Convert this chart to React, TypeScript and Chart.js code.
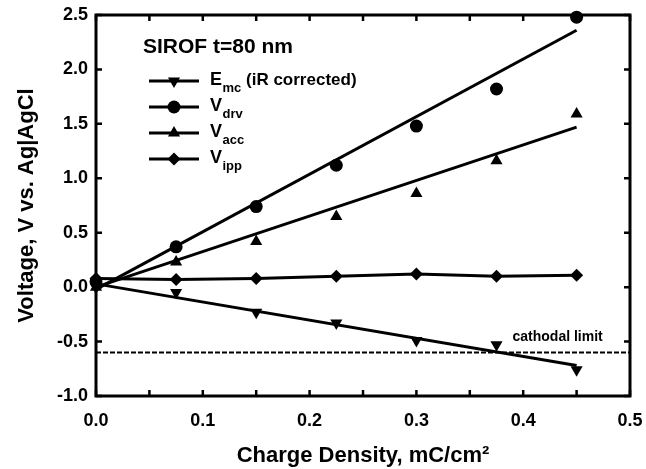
import React, { useEffect, useRef } from 'react';
import { Chart, registerables } from 'chart.js';

Chart.register(...registerables);

// ---- data ----
const chargeDensity = [0, 0.075, 0.15, 0.225, 0.3, 0.375, 0.45];
const emc = [0.0, -0.05, -0.23, -0.33, -0.49, -0.53, -0.76];
const vdrv = [0.05, 0.37, 0.74, 1.12, 1.48, 1.82, 2.48];
const vacc = [0.0, 0.23, 0.42, 0.65, 0.86, 1.16, 1.59];
const vipp = [0.08, 0.07, 0.08, 0.10, 0.12, 0.10, 0.11];

const fitX = [0, 0.45];
const emcFit = [0.03, -0.72];
const vdrvFit = [-0.02, 2.36];
const vaccFit = [0.0, 1.47];

const limitX = [0, 0.5];
const cathodalLimit = -0.6;
const cathodalLabel = 'cathodal limit';
const cathodalLabelX = 0.39;

const xMin = 0, xMax = 0.5, xStep = 0.05;
const yMin = -1.0, yMax = 2.5, yStep = 0.5;

const xTitle = 'Charge Density, mC/cm²';
const yTitle = 'Voltage, V vs. Ag|AgCl';
const panelTitle = 'SIROF t=80 nm';
const legendItems = [
  { main: 'E', sub: 'mc', rest: ' (iR corrected)', marker: 'down' },
  { main: 'V', sub: 'drv', rest: '', marker: 'circle' },
  { main: 'V', sub: 'acc', rest: '', marker: 'up' },
  { main: 'V', sub: 'ipp', rest: '', marker: 'diamond' },
];

const FONT = '"Liberation Sans", Arial, Helvetica, sans-serif';
const BLACK = '#000';

const pts = (xs: number[], ys: number[]) => xs.map((x, i) => ({ x, y: ys[i] }));

function drawMarker(ctx: CanvasRenderingContext2D, kind: string, x: number, y: number) {
  ctx.beginPath();
  if (kind === 'circle') {
    ctx.arc(x, y, 6.5, 0, Math.PI * 2);
  } else if (kind === 'up' || kind === 'down') {
    const r = 7;
    const s = kind === 'up' ? 1 : -1;
    for (let k = 0; k < 3; k++) {
      const a = (k * 2 * Math.PI) / 3;
      const px = x + Math.sin(a) * r;
      const py = y - s * Math.cos(a) * r;
      if (k === 0) ctx.moveTo(px, py); else ctx.lineTo(px, py);
    }
    ctx.closePath();
  } else {
    const r = 6.5;
    ctx.moveTo(x, y - r); ctx.lineTo(x + r, y); ctx.lineTo(x, y + r); ctx.lineTo(x - r, y); ctx.closePath();
  }
  ctx.fill();
}

const framePlugin = {
  id: 'frame',
  beforeDatasetsDraw(chart: any) {
    const { ctx, chartArea, scales } = chart;
    const { left, right, top, bottom } = chartArea;
    const xs = scales.x, ys = scales.y;
    ctx.save();
    ctx.strokeStyle = BLACK;
    ctx.lineWidth = 3;
    ctx.strokeRect(left, top, right - left, bottom - top);
    ctx.lineWidth = 2.5;
    const tl = 6;
    ctx.beginPath();
    xs.ticks.forEach((t: any) => {
      const px = xs.getPixelForValue(t.value);
      ctx.moveTo(px, bottom); ctx.lineTo(px, bottom - tl);
      ctx.moveTo(px, top); ctx.lineTo(px, top + tl);
    });
    ys.ticks.forEach((t: any) => {
      const py = ys.getPixelForValue(t.value);
      ctx.moveTo(left, py); ctx.lineTo(left + tl, py);
      ctx.moveTo(right, py); ctx.lineTo(right - tl, py);
    });
    ctx.stroke();
    ctx.restore();
  },
  afterDatasetsDraw(chart: any) {
    const { ctx, chartArea, scales } = chart;
    const { left, top } = chartArea;
    ctx.save();
    ctx.fillStyle = BLACK;
    ctx.strokeStyle = BLACK;
    // cathodal label
    ctx.font = `bold 14px ${FONT}`;
    ctx.textAlign = 'left';
    ctx.textBaseline = 'middle';
    ctx.fillText(cathodalLabel, scales.x.getPixelForValue(cathodalLabelX), scales.y.getPixelForValue(cathodalLimit) - 15);
    // panel title
    ctx.font = `bold 21px ${FONT}`;
    ctx.textBaseline = 'alphabetic';
    ctx.fillText(panelTitle, left + 47, top + 38);
    // legend
    const x0 = left + 53, x1 = left + 103, xm = (x0 + x1) / 2, xt = left + 114;
    legendItems.forEach((it, i) => {
      const ry = top + 66 + i * 26;
      ctx.lineWidth = 3;
      ctx.beginPath();
      ctx.moveTo(x0, ry); ctx.lineTo(x1, ry);
      ctx.stroke();
      drawMarker(ctx, it.marker, xm, ry);
      const base = ry + 4;
      ctx.font = `bold 18px ${FONT}`;
      ctx.fillText(it.main, xt, base);
      let cx = xt + ctx.measureText(it.main).width + 0.5;
      ctx.font = `bold 13px ${FONT}`;
      ctx.fillText(it.sub, cx, base + 7);
      cx += ctx.measureText(it.sub).width;
      if (it.rest) {
        ctx.font = `bold 17px ${FONT}`;
        ctx.fillText(it.rest, cx, base);
      }
    });
    ctx.restore();
  },
};

export default function App() {
  const ref = useRef<HTMLCanvasElement | null>(null);
  useEffect(() => {
    if (!ref.current) return;
    Chart.defaults.font.family = FONT;
    Chart.defaults.color = BLACK;
    const common = { borderColor: BLACK, backgroundColor: BLACK, clip: false as any };
    const chart = new Chart(ref.current, {
      type: 'scatter',
      data: {
        datasets: [
          { ...common, label: 'cathodal', data: pts(limitX, [cathodalLimit, cathodalLimit]), showLine: true, borderWidth: 2, borderDash: [5, 2], pointRadius: 0 },
          { ...common, label: 'Emc fit', data: pts(fitX, emcFit), showLine: true, borderWidth: 3, pointRadius: 0 },
          { ...common, label: 'Vdrv fit', data: pts(fitX, vdrvFit), showLine: true, borderWidth: 3, pointRadius: 0 },
          { ...common, label: 'Vacc fit', data: pts(fitX, vaccFit), showLine: true, borderWidth: 3, pointRadius: 0 },
          { ...common, label: 'Vipp', data: pts(chargeDensity, vipp), showLine: true, borderWidth: 3, pointStyle: 'rectRot', pointRadius: 6.5, pointBorderWidth: 0 },
          { ...common, label: 'Emc', data: pts(chargeDensity, emc), showLine: false, pointStyle: 'triangle', rotation: 180, pointRadius: 7, pointBorderWidth: 0 },
          { ...common, label: 'Vdrv', data: pts(chargeDensity, vdrv), showLine: false, pointStyle: 'circle', pointRadius: 6.5, pointBorderWidth: 0 },
          { ...common, label: 'Vacc', data: pts(chargeDensity, vacc), showLine: false, pointStyle: 'triangle', pointRadius: 7, pointBorderWidth: 0 },
        ] as any,
      },
      options: {
        animation: false,
        responsive: false,
        devicePixelRatio: 1,
        layout: { padding: { top: 15, right: 16, left: 0, bottom: 0 } },
        plugins: { legend: { display: false }, tooltip: { enabled: false } },
        scales: {
          x: {
            type: 'linear',
            min: xMin, max: xMax,
            grid: { display: false, drawTicks: false },
            border: { display: false },
            ticks: {
              stepSize: xStep, autoSkip: false, maxRotation: 0, padding: 14, color: BLACK,
              font: { size: 18, weight: 'bold', family: FONT },
              callback: (v: any) => {
                const n = Number(v);
                return Math.abs(n * 10 - Math.round(n * 10)) < 1e-6 ? n.toFixed(1) : '';
              },
            },
            title: { display: true, text: xTitle, color: BLACK, font: { size: 22, weight: 'bold', family: FONT }, padding: { top: 0, bottom: 0 } },
            afterFit: (s: any) => { s.height = 73; s.paddingLeft = 0; s.paddingRight = 0; },
          },
          y: {
            type: 'linear',
            min: yMin, max: yMax,
            grid: { display: false, drawTicks: false },
            border: { display: false },
            ticks: {
              stepSize: yStep, padding: 8, color: BLACK,
              font: { size: 18, weight: 'bold', family: FONT },
              callback: (v: any) => Number(v).toFixed(1),
            },
            title: { display: true, text: yTitle, color: BLACK, font: { size: 22, weight: 'bold', family: FONT }, padding: { top: 14, bottom: 0 } },
            afterFit: (s: any) => { s.width = 96; s.paddingTop = 0; s.paddingBottom = 0; },
          },
        },
      } as any,
      plugins: [framePlugin],
    });
    return () => chart.destroy();
  }, []);
  return (
    <div style={{ position: 'fixed', left: 0, top: 0, width: 646, height: 469, background: '#fff' }}>
      <canvas ref={ref} width={646} height={469} style={{ width: 646, height: 469, display: 'block' }} />
    </div>
  );
}
